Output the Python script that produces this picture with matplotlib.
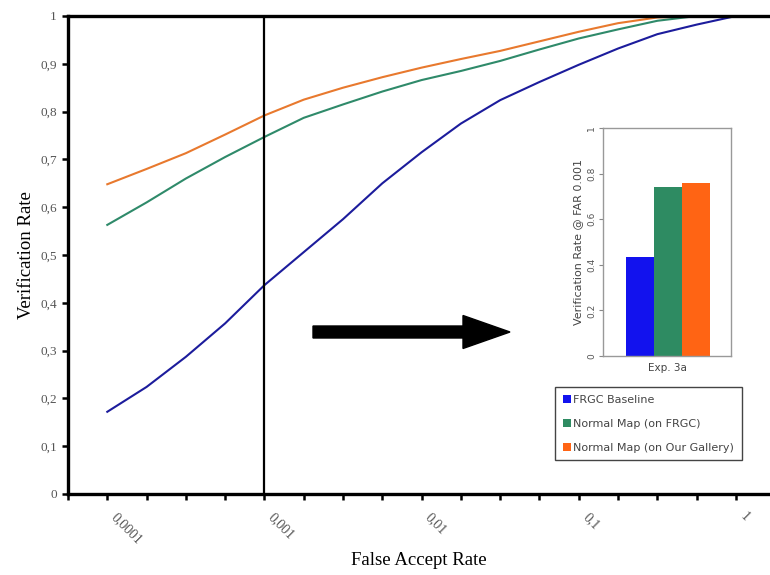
import numpy as np
import matplotlib
matplotlib.use("Agg")
import matplotlib.pyplot as plt
from matplotlib.patches import FancyArrow
from matplotlib.ticker import FixedLocator, FuncFormatter
from matplotlib.transforms import ScaledTranslation

# ROC curves, read at quarter-decade FAR steps (log10)
log_far = [-4, -3.75, -3.5, -3.25, -3, -2.75, -2.5, -2.25, -2,
           -1.75, -1.5, -1.25, -1, -0.75, -0.5, -0.25, 0]
frgc_baseline = [0.172, 0.224, 0.287, 0.357, 0.437, 0.506, 0.575, 0.65, 0.715,
                 0.775, 0.824, 0.862, 0.898, 0.932, 0.962, 0.982, 1.0]
normal_frgc = [0.563, 0.61, 0.66, 0.705, 0.747, 0.787, 0.815, 0.842, 0.866,
               0.885, 0.906, 0.93, 0.953, 0.972, 0.99, 1.0, 1.0]
normal_gallery = [0.648, 0.68, 0.713, 0.752, 0.792, 0.825, 0.85, 0.872, 0.892,
                  0.91, 0.927, 0.947, 0.967, 0.985, 0.997, 1.0, 1.0]

# inset bars: verification rate at FAR 0.001
bar_labels = ["FRGC Baseline", "Normal Map (on FRGC)", "Normal Map (on Our Gallery)"]
bar_values = [0.434, 0.741, 0.758]

far = 10 ** np.array(log_far)

line_colors = ["#1c1c9c", "#2f8a6a", "#e8792e"]
bar_colors = ["#1212ee", "#2e8b62", "#ff6414"]
serif = "Liberation Serif"
sans = "DejaVu Sans"

fig = plt.figure(figsize=(7.7, 5.75), dpi=100)
ax = fig.add_axes([68 / 770, 81 / 575, 702 / 770, 478 / 575])

for y, c in zip([frgc_baseline, normal_frgc, normal_gallery], line_colors):
    ax.plot(far, y, color=c, lw=1.5)

ax.axvline(1e-3, color="black", lw=1.6)

ax.set_xscale("log")
ax.set_xlim(10 ** -4.25, 10 ** 0.2166)
ax.set_ylim(0, 1)

ax.xaxis.set_major_locator(FixedLocator([1e-4, 1e-3, 1e-2, 1e-1, 1]))
ax.xaxis.set_minor_locator(FixedLocator(10 ** np.arange(-4.25, 0.1, 0.25)))
ax.set_xticklabels(["0,0001", "0,001", "0,01", "0,1", "1"])
ax.xaxis.set_minor_formatter(FuncFormatter(lambda v, p: ""))
ax.set_yticks(np.arange(0, 1.01, 0.1))
ax.yaxis.set_major_formatter(FuncFormatter(
    lambda v, p: "0" if v == 0 else ("1" if v == 1 else f"{v:.1f}".replace(".", ","))))

ax.tick_params(axis="both", which="both", direction="out", length=4, width=1.8,
               labelcolor="#555555")
ax.tick_params(axis="y", labelsize=9.5, pad=4)
ax.tick_params(axis="x", which="major", labelsize=10, pad=11)
shift = ScaledTranslation(0.06, 0, fig.dpi_scale_trans)
for lab in ax.get_xticklabels():
    lab.set_rotation(-45)
    lab.set_ha("left")
    lab.set_va("center")
    lab.set_rotation_mode("anchor")
    lab.set_family(serif)
    lab.set_transform(lab.get_transform() + shift)
for lab in ax.get_yticklabels():
    lab.set_family(serif)

for s in ["left", "bottom", "top"]:
    ax.spines[s].set_linewidth(2.4)
ax.spines["right"].set_visible(False)

ax.set_xlabel("False Accept Rate", family=serif, fontsize=13.5)
ax.xaxis.set_label_coords(0.5, -0.122)
ax.set_ylabel("Verification Rate", family=serif, fontsize=13.5, labelpad=4)

# arrow pointing to the inset
arrow = FancyArrow(3.13, 2.43, 1.97, 0, width=0.12, head_width=0.33, head_length=0.47,
                   length_includes_head=True, color="black", transform=fig.dpi_scale_trans)
fig.add_artist(arrow)

# inset bar chart
ins = fig.add_axes([603 / 770, 219 / 575, 128 / 770, 228 / 575])
bars = ins.bar([0, 1, 2], bar_values, width=1.0, color=bar_colors)
ins.set_xlim(-1.31, 3.24)
ins.set_ylim(0, 1)
ins.set_xticks([])
ins.set_yticks([0, 0.2, 0.4, 0.6, 0.8, 1])
ins.set_yticklabels(["0", "0.2", "0.4", "0.6", "0.8", "1"], rotation=90, va="center",
                    family=sans)
ins.tick_params(axis="y", length=3, width=0.8, color="#888888", labelsize=6.5,
                labelcolor="#555555", pad=2)
for s in ins.spines.values():
    s.set_color("#999999")
    s.set_linewidth(1.0)
ins.set_xlabel("Exp. 3a", fontsize=7.5, color="#444444", family=sans, labelpad=5)
ins.set_ylabel("Verification Rate @ FAR 0.001", fontsize=8, color="#444444",
               family=sans, labelpad=3)

leg = fig.legend(bars, bar_labels, loc="upper left",
                 bbox_to_anchor=(555 / 770, 1 - 387 / 575), borderaxespad=0,
                 prop={"family": sans, "size": 8},
                 handlelength=0.7, handleheight=0.7, handletextpad=0.25,
                 labelspacing=1.25, borderpad=0.7, fancybox=False,
                 edgecolor="#444444", framealpha=1)
leg.get_frame().set_linewidth(1.0)
for t in leg.get_texts():
    t.set_color("#444444")

fig.savefig("out.png", dpi=100)
